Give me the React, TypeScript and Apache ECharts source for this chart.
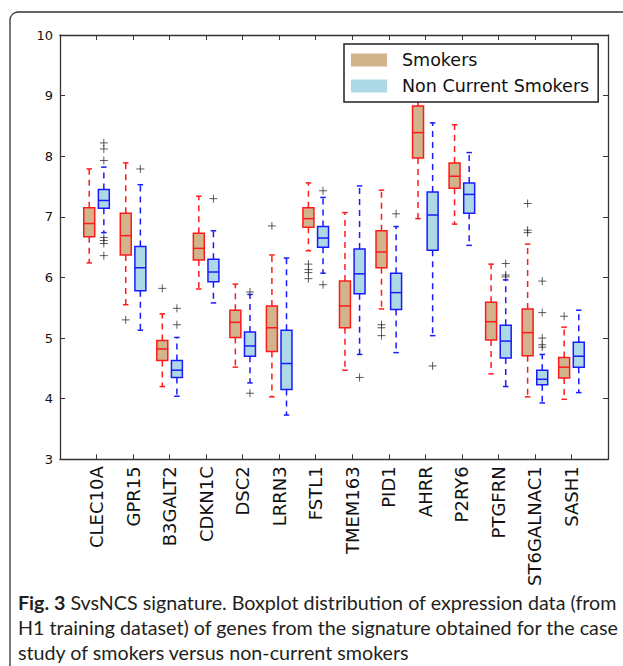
import React, { useEffect, useRef } from 'react';
import * as echarts from 'echarts';

const genes = ['CLEC10A', 'GPR15', 'B3GALT2', 'CDKN1C', 'DSC2', 'LRRN3', 'FSTL1', 'TMEM163', 'PID1', 'AHRR', 'P2RY6', 'PTGFRN', 'ST6GALNAC1', 'SASH1'];

// [lower whisker, Q1, median, Q3, upper whisker]
const smokersStats = [
  [6.24, 6.67, 6.89, 7.15, 7.79],
  [5.55, 6.37, 6.69, 7.06, 7.89],
  [4.20, 4.63, 4.82, 4.96, 5.40],
  [5.81, 6.29, 6.48, 6.73, 7.34],
  [4.52, 5.01, 5.26, 5.46, 5.89],
  [4.03, 4.78, 5.17, 5.53, 6.37],
  [6.44, 6.83, 6.97, 7.15, 7.56],
  [4.47, 5.17, 5.53, 5.94, 7.07],
  [5.48, 6.16, 6.42, 6.77, 7.44],
  [6.97, 7.97, 8.39, 8.83, 9.05],
  [6.88, 7.47, 7.67, 7.89, 8.52],
  [4.41, 4.97, 5.27, 5.59, 6.22],
  [4.03, 4.71, 5.09, 5.48, 6.55],
  [3.99, 4.34, 4.52, 4.68, 5.18],
];

const nonSmokersStats = [
  [6.74, 7.14, 7.27, 7.45, 7.82],
  [5.13, 5.78, 6.16, 6.51, 7.53],
  [4.04, 4.35, 4.47, 4.63, 5.01],
  [5.58, 5.93, 6.09, 6.30, 6.77],
  [4.26, 4.70, 4.87, 5.10, 5.72],
  [3.73, 4.15, 4.58, 5.13, 6.32],
  [6.07, 6.50, 6.65, 6.84, 7.32],
  [4.73, 5.73, 6.06, 6.47, 7.51],
  [4.76, 5.47, 5.75, 6.07, 6.84],
  [5.04, 6.45, 7.03, 7.41, 8.55],
  [6.53, 7.06, 7.37, 7.56, 8.06],
  [4.20, 4.67, 4.95, 5.21, 5.96],
  [3.93, 4.23, 4.32, 4.47, 4.73],
  [4.10, 4.52, 4.70, 4.93, 5.46],
];

const smokersOutliers = [
  [],
  [5.30],
  [5.82],
  [],
  [],
  [6.85],
  [6.22, 6.13, 6.08, 5.98],
  [],
  [5.22, 5.17, 5.04],
  [],
  [],
  [],
  [7.22, 6.78, 6.74],
  [5.36],
];

const nonSmokersOutliers = [
  [8.22, 8.12, 7.93, 6.66, 6.61, 6.56, 6.36],
  [7.79],
  [5.49, 5.22],
  [7.30],
  [5.76, 4.09],
  [],
  [7.43, 5.88],
  [4.35],
  [7.05],
  [4.54],
  [],
  [6.23, 6.04, 6.01],
  [5.94, 5.42, 5.00, 4.89, 4.85],
  [],
];

const seriesNames = ['Smokers', 'Non Current Smokers'];
const captionLines = [
  '{b|Fig. 3} SvsNCS signature. Boxplot distribution of expression data (from',
  'H1 training dataset) of genes from the signature obtained for the case',
  'study of smokers versus non-current smokers',
];

const OFFSET = 0.2;
const HALF_BOX = 0.15;
const HALF_CAP = 0.075;

function makeRenderItem(edge: string, fill: string) {
  return (_params: any, api: any) => {
    const x = api.value(0);
    const lo = api.value(1);
    const q1 = api.value(2);
    const med = api.value(3);
    const q3 = api.value(4);
    const hi = api.value(5);
    const p = (a: number, b: number) => api.coord([a, b]);
    const solid = { stroke: edge, lineWidth: 1.5, fill: 'none' };
    const dashed = { stroke: edge, lineWidth: 1.5, lineDash: [6, 5], fill: 'none' };
    const seg = (a: number[], b: number[], style: any) => ({
      type: 'line',
      shape: { x1: a[0], y1: a[1], x2: b[0], y2: b[1] },
      style,
    });
    const tl = p(x - HALF_BOX, q3);
    const br = p(x + HALF_BOX, q1);
    return {
      type: 'group',
      children: [
        seg(p(x, q3), p(x, hi), dashed),
        seg(p(x, q1), p(x, lo), dashed),
        seg(p(x - HALF_CAP, hi), p(x + HALF_CAP, hi), solid),
        seg(p(x - HALF_CAP, lo), p(x + HALF_CAP, lo), solid),
        {
          type: 'rect',
          shape: { x: tl[0], y: tl[1], width: br[0] - tl[0], height: br[1] - tl[1] },
          style: { fill, stroke: edge, lineWidth: 1.5 },
        },
        seg(p(x - HALF_BOX, med), p(x + HALF_BOX, med), solid),
      ],
    };
  };
}

export default function App() {
  const ref = useRef<HTMLDivElement>(null);
  useEffect(() => {
    const chart = echarts.init(ref.current!, null, { renderer: 'svg' });

    const smokersData = smokersStats.map((s, i) => [i + 1 - OFFSET, ...s]);
    const nonSmokersData = nonSmokersStats.map((s, i) => [i + 1 + OFFSET, ...s]);
    const outlierData: number[][] = [];
    smokersOutliers.forEach((arr, i) => arr.forEach((v) => outlierData.push([i + 1 - OFFSET, v])));
    nonSmokersOutliers.forEach((arr, i) => arr.forEach((v) => outlierData.push([i + 1 + OFFSET, v])));

    const axisColor = '#333';
    const tickStyle = { inside: true, length: 5, lineStyle: { color: axisColor, width: 1 } };
    const lineStyle = { lineStyle: { color: axisColor, width: 1.3 } };

    chart.setOption({
      animation: false,
      backgroundColor: '#fff',
      title: {
        text: captionLines.join('\n'),
        left: 18,
        top: 590,
        padding: 0,
        textStyle: {
          fontFamily: 'Lato',
          fontSize: 19.7,
          fontWeight: 'normal',
          color: '#231f20',
          lineHeight: 25,
          rich: {
            b: { fontFamily: 'Lato', fontSize: 19.7, fontWeight: 'bold', color: '#231f20', lineHeight: 25 },
          },
        },
      },
      legend: {
        data: seriesNames,
        orient: 'vertical',
        left: 344,
        top: 44,
        icon: 'rect',
        itemWidth: 36,
        itemHeight: 13,
        itemGap: 8,
        padding: [7, 9, 7, 7],
        backgroundColor: '#fff',
        borderColor: '#222',
        borderWidth: 1.5,
        selectedMode: false,
        itemStyle: { borderWidth: 0 },
        textStyle: { fontFamily: 'DejaVu Sans', fontSize: 17.5, color: '#111', padding: [0, 0, 0, 10] },
      },
      grid: { left: 60, top: 35, right: 15, bottom: 206.7, containLabel: false },
      xAxis: [
        {
          type: 'value',
          min: 0,
          max: 15,
          interval: 1,
          position: 'bottom',
          axisLine: { show: true, onZero: false, ...lineStyle },
          axisTick: tickStyle,
          splitLine: { show: false },
          axisLabel: {
            rotate: 90,
            margin: 7,
            fontFamily: 'DejaVu Sans',
            fontSize: 18,
            color: '#111',
            formatter: (v: number) => genes[v - 1] ?? '',
          },
        },
        {
          type: 'value',
          min: 0,
          max: 15,
          interval: 1,
          position: 'top',
          axisLine: { show: true, onZero: false, ...lineStyle },
          axisTick: tickStyle,
          splitLine: { show: false },
          axisLabel: { show: false },
        },
      ],
      yAxis: [
        {
          type: 'value',
          min: 3,
          max: 10,
          interval: 1,
          position: 'left',
          axisLine: { show: true, onZero: false, ...lineStyle },
          axisTick: tickStyle,
          splitLine: { show: false },
          axisLabel: { margin: 7, fontFamily: 'DejaVu Sans', fontSize: 13, color: '#111' },
        },
        {
          type: 'value',
          min: 3,
          max: 10,
          interval: 1,
          position: 'right',
          axisLine: { show: true, onZero: false, ...lineStyle },
          axisTick: tickStyle,
          splitLine: { show: false },
          axisLabel: { show: false },
        },
      ],
      series: [
        {
          name: seriesNames[0],
          type: 'custom',
          xAxisIndex: 0,
          yAxisIndex: 0,
          itemStyle: { color: '#d2b48c' },
          renderItem: makeRenderItem('#ff1a1a', '#d2b48c'),
          encode: { x: 0, y: [1, 2, 3, 4, 5] },
          data: smokersData,
          z: 2,
        },
        {
          name: seriesNames[1],
          type: 'custom',
          xAxisIndex: 0,
          yAxisIndex: 0,
          itemStyle: { color: '#add8e6' },
          renderItem: makeRenderItem('#1a1aff', '#add8e6'),
          encode: { x: 0, y: [1, 2, 3, 4, 5] },
          data: nonSmokersData,
          z: 2,
        },
        {
          name: 'Outliers',
          type: 'scatter',
          xAxisIndex: 0,
          yAxisIndex: 0,
          symbol: 'path://M5 0L5 10M0 5L10 5',
          symbolSize: 8,
          itemStyle: { color: 'transparent', borderColor: '#333', borderWidth: 1 },
          data: outlierData,
          z: 3,
        },
      ],
      graphic: [
        {
          type: 'rect',
          silent: true,
          shape: { x: 10, y: 12, width: 720, height: 720, r: 8 },
          style: { fill: 'none', stroke: '#333', lineWidth: 1.3 },
          z: 10,
        },
      ],
    });
    return () => chart.dispose();
  }, []);
  return (
    <div
      ref={ref}
      style={{ position: 'fixed', left: 0, top: 0, width: 623, height: 666, background: '#fff' }}
    />
  );
}
